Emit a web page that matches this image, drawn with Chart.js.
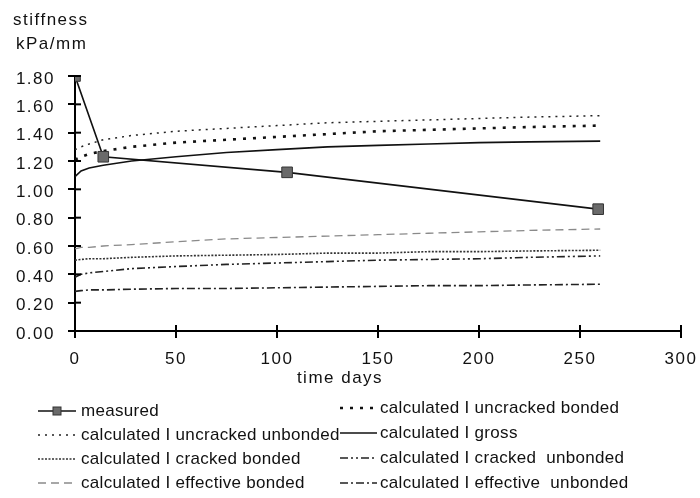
<!DOCTYPE html>
<html><head><meta charset="utf-8">
<script src="https://cdn.jsdelivr.net/npm/chart.js@4/dist/chart.umd.min.js"></script>
<style>html,body{margin:0;padding:0;background:#fff;}</style>
</head><body>
<canvas id="c" width="700" height="498"></canvas>
<script>
// ---- data ----
const days = [0, 3, 7, 14, 28, 50, 75, 100, 125, 150, 175, 200, 225, 260];
const measuredDays = [0, 14, 105, 259];
const measured = [1.80, 1.23, 1.12, 0.86];
const uncrackedUnbonded = [1.28, 1.30, 1.32, 1.35, 1.38, 1.41, 1.43, 1.45, 1.47, 1.48, 1.49, 1.50, 1.51, 1.52];
const uncrackedBonded   = [1.21, 1.23, 1.25, 1.27, 1.30, 1.33, 1.35, 1.37, 1.39, 1.41, 1.42, 1.43, 1.44, 1.45];
const gross             = [1.09, 1.13, 1.15, 1.17, 1.20, 1.23, 1.26, 1.28, 1.30, 1.31, 1.32, 1.33, 1.335, 1.34];
const effectiveBonded   = [0.58, 0.59, 0.59, 0.60, 0.61, 0.63, 0.65, 0.66, 0.67, 0.68, 0.69, 0.70, 0.71, 0.72];
const crackedBonded     = [0.50, 0.505, 0.51, 0.51, 0.52, 0.53, 0.535, 0.54, 0.55, 0.55, 0.56, 0.56, 0.565, 0.57];
const crackedUnbonded   = [0.38, 0.40, 0.41, 0.42, 0.44, 0.455, 0.47, 0.48, 0.49, 0.50, 0.505, 0.51, 0.52, 0.53];
const effectiveUnbonded = [0.28, 0.285, 0.29, 0.29, 0.295, 0.30, 0.30, 0.305, 0.31, 0.315, 0.32, 0.32, 0.325, 0.33];
const seriesNames = ['measured', 'calculated I uncracked unbonded', 'calculated I cracked bonded', 'calculated I effective bonded',
  'calculated I uncracked bonded', 'calculated I gross', 'calculated I cracked  unbonded', 'calculated I effective  unbonded'];
const yAxisTitle = ['stiffness', 'kPa/mm'];
const xAxisTitle = 'time days';
const xMin = 0, xMax = 300, xStep = 50;
const yMin = 0, yMax = 1.8, yStep = 0.2;

const pts = (xs, ys) => xs.map((x, i) => ({x: x, y: ys[i]}));
const FONT = '"Liberation Sans", Arial, sans-serif';

function line(label, data, color, width, dash) {
  return {label, data: pts(days, data), borderColor: color, borderWidth: width, borderDash: dash,
    pointRadius: 0, tension: 0, fill: false};
}

const datasets = [
  {label: seriesNames[0], data: pts(measuredDays, measured), borderColor: '#111', borderWidth: 1.6,
   pointStyle: 'rect', pointRadius: 7.5, pointBackgroundColor: '#6a6a6a', pointBorderColor: '#333', pointBorderWidth: 1,
   tension: 0, fill: false},
  line(seriesNames[1], uncrackedUnbonded, '#222', 1.5, [2, 5]),
  line(seriesNames[2], crackedBonded, '#333', 1.6, [2, 1.5]),
  line(seriesNames[3], effectiveBonded, '#8a8a8a', 1.3, [8, 5]),
  line(seriesNames[4], uncrackedBonded, '#111', 2.6, [3, 7]),
  line(seriesNames[5], gross, '#111', 1.6, []),
  line(seriesNames[6], crackedUnbonded, '#222', 1.6, [8, 3, 2, 3, 2, 3]),
  line(seriesNames[7], effectiveUnbonded, '#222', 1.6, [8, 3, 2, 3])
];

const spacing = {id: 'spacing',
  beforeUpdate(chart) { chart.ctx.letterSpacing = '1.5px'; },
  beforeDraw(chart) { chart.ctx.letterSpacing = '1.5px'; }};

const extras = {id: 'extras', afterDraw(chart) {
  const ctx = chart.ctx, xs = chart.scales.x, ys = chart.scales.y, a = chart.chartArea;
  ctx.save();
  ctx.strokeStyle = '#000'; ctx.lineWidth = 2;
  ys.ticks.forEach(t => { const y = ys.getPixelForValue(t.value); ctx.beginPath(); ctx.moveTo(a.left, y); ctx.lineTo(a.left + 6, y); ctx.stroke(); });
  xs.ticks.forEach(t => { const x = xs.getPixelForValue(t.value); ctx.beginPath(); ctx.moveTo(x, a.bottom); ctx.lineTo(x, a.bottom - 6); ctx.stroke(); });
  ctx.fillStyle = '#111';
  ctx.font = '17px ' + FONT; ctx.letterSpacing = '1.5px'; ctx.textBaseline = 'middle'; ctx.textAlign = 'left';
  ctx.fillText(yAxisTitle[0], 13, 20);
  ctx.fillText(yAxisTitle[1], 16, 44);
  ctx.textAlign = 'center';
  ctx.fillText(xAxisTitle, 340, 378);
  // legend
  ctx.letterSpacing = '0.3px'; ctx.textAlign = 'left';
  const cols = [{x0: 38, x1: 76, tx: 81, ys: [411, 435, 459, 483], idx: [0, 1, 2, 3]},
                {x0: 340, x1: 377, tx: 380, ys: [408, 433, 458, 483], idx: [4, 5, 6, 7]}];
  cols.forEach(c => c.idx.forEach((di, k) => {
    const ds = chart.data.datasets[di], y = c.ys[k];
    ctx.save();
    ctx.strokeStyle = ds.borderColor; ctx.lineWidth = ds.borderWidth; ctx.setLineDash(ds.borderDash || []);
    ctx.beginPath(); ctx.moveTo(c.x0, y); ctx.lineTo(c.x1, y); ctx.stroke();
    if (ds.pointStyle === 'rect') {
      ctx.setLineDash([]); ctx.fillStyle = ds.pointBackgroundColor; ctx.strokeStyle = ds.pointBorderColor; ctx.lineWidth = 1;
      const m = (c.x0 + c.x1) / 2; ctx.fillRect(m - 4, y - 4, 8, 8); ctx.strokeRect(m - 4, y - 4, 8, 8);
    }
    ctx.restore();
    ctx.fillStyle = '#111';
    ctx.fillText(ds.label, c.tx, y);
  }));
  ctx.restore();
}};

new Chart(document.getElementById('c'), {
  type: 'line',
  data: {datasets},
  plugins: [spacing, extras],
  options: {
    responsive: false, devicePixelRatio: 1, animation: false,
    layout: {padding: {left: 0, top: 76, right: 19, bottom: 120}},
    plugins: {legend: {display: false}, tooltip: {enabled: false}},
    scales: {
      x: {type: 'linear', min: xMin, max: xMax,
        afterFit(s) { s.height = 47; s.paddingRight = 0; s.paddingLeft = 0; },
        border: {display: true, color: '#000', width: 2},
        grid: {drawOnChartArea: false, drawTicks: true, tickLength: 7, color: '#000', lineWidth: 2},
        ticks: {stepSize: xStep, color: '#111', padding: 11, font: {family: FONT, size: 17}, maxRotation: 0}},
      y: {type: 'linear', min: yMin, max: yMax,
        afterFit(s) { s.width = 75; },
        border: {display: true, color: '#000', width: 2},
        grid: {drawOnChartArea: false, drawTicks: true, tickLength: 7, color: '#000', lineWidth: 2},
        ticks: {stepSize: yStep, color: '#111', padding: 13, labelOffset: 3, font: {family: FONT, size: 17},
          callback: v => Number(v).toFixed(2)}}
    }
  }
});
</script>
</body></html>
